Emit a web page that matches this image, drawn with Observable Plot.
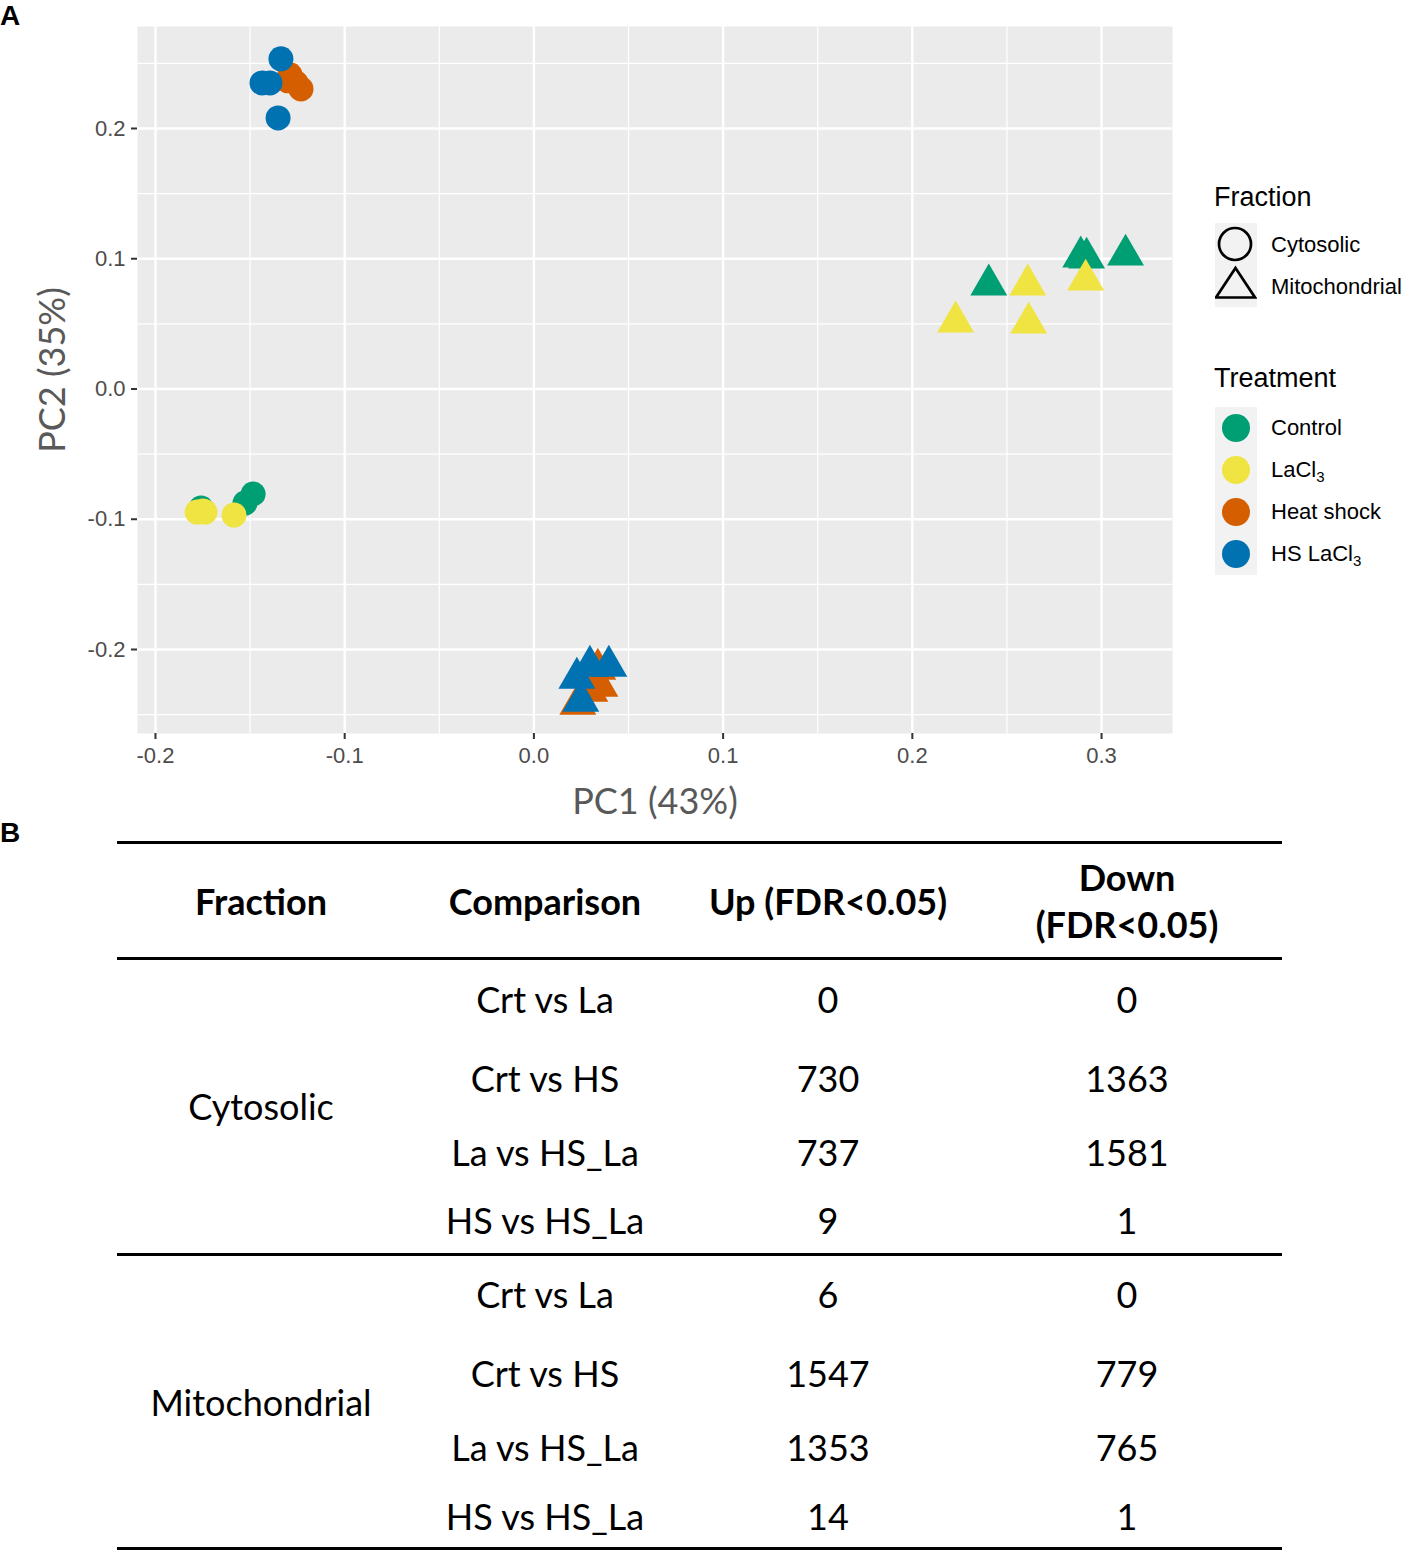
<!DOCTYPE html>
<html>
<head>
<meta charset="utf-8">
<script src="https://cdn.jsdelivr.net/npm/d3@7"></script>
<script src="https://cdn.jsdelivr.net/npm/@observablehq/plot@0.6"></script>
<style>
  body { margin: 0; background: #fff; }
  #page { position: relative; width: 1407px; height: 1550px; overflow: hidden; font-family: "Liberation Sans", Arial, sans-serif; }
  .abs { position: absolute; white-space: nowrap; }
  #plot { position: absolute; left: 0; top: 0; }
  .axtitle { font-family: Lato, sans-serif; font-size: 36px; color: #595959; text-align: center; width: 400px; height: 44px; line-height: 44px; }
  .panel { font-family: "Liberation Sans", Arial, sans-serif; font-weight: bold; font-size: 28px; color: #000; }
  .legtitle { font-size: 27px; color: #000; height: 32px; line-height: 32px; }
  .leglab { font-size: 22px; color: #000; height: 30px; line-height: 30px; }
  .leglab sub { font-size: 15px; vertical-align: -5px; line-height: 0; }
  .cell { font-family: Lato, sans-serif; font-size: 36px; color: #000; text-align: center; width: 320px; height: 44px; line-height: 44px; }
  .hdr { font-weight: bold; }
  .rule { background: #000; height: 3px; left: 117px; width: 1165px; }
</style>
</head>
<body>
<div id="page"><div id="plot"></div></div>
<script>
// ---------- data ----------
const treatments = ["Control", "LaCl3", "Heat shock", "HS LaCl3"];
const treatmentColors = ["#009E73", "#F0E442", "#D55E00", "#0072B2"];
const fractions = ["Cytosolic", "Mitochondrial"];

const sampleTreatment = [
  "Control","Control","Control","Control",
  "Control","Control","Control","Control",
  "LaCl3","LaCl3","LaCl3","LaCl3",
  "LaCl3","LaCl3","LaCl3","LaCl3",
  "Heat shock","Heat shock","Heat shock","Heat shock",
  "Heat shock","Heat shock","Heat shock","Heat shock",
  "HS LaCl3","HS LaCl3","HS LaCl3","HS LaCl3",
  "HS LaCl3","HS LaCl3","HS LaCl3","HS LaCl3"
];
const sampleFraction = [
  "Cytosolic","Cytosolic","Cytosolic","Cytosolic",
  "Mitochondrial","Mitochondrial","Mitochondrial","Mitochondrial",
  "Cytosolic","Cytosolic","Cytosolic","Cytosolic",
  "Mitochondrial","Mitochondrial","Mitochondrial","Mitochondrial",
  "Cytosolic","Cytosolic","Cytosolic","Cytosolic",
  "Mitochondrial","Mitochondrial","Mitochondrial","Mitochondrial",
  "Cytosolic","Cytosolic","Cytosolic","Cytosolic",
  "Mitochondrial","Mitochondrial","Mitochondrial","Mitochondrial"
];
const pc1 = [
  -0.1759, -0.1764, -0.1527, -0.1484,
   0.2404,  0.2890,  0.2921,  0.3127,
  -0.1749, -0.1780, -0.1738, -0.1585,
   0.2229,  0.2615,  0.2610,  0.2916,
  -0.1300, -0.1289, -0.1257, -0.1231,
   0.0296,  0.0338,  0.0349,  0.0232,
  -0.1437, -0.1395, -0.1337, -0.1352,
   0.0296,  0.0396,  0.0227,  0.0248
];
const pc2 = [
  -0.0914, -0.0930, -0.0876, -0.0806,
   0.0799,  0.1014,  0.1006,  0.1029,
  -0.0937, -0.0945, -0.0945, -0.0968,
   0.0515,  0.0507,  0.0799,  0.0837,
   0.2366,  0.2412,  0.2350,  0.2304,
  -0.2320, -0.2151, -0.2281, -0.2419,
   0.2350,  0.2350,  0.2535,  0.2081,
  -0.2127, -0.2127, -0.2220, -0.2396
];

const xTicks = [-0.2, -0.1, 0.0, 0.1, 0.2, 0.3];
const yTicks = [-0.2, -0.1, 0.0, 0.1, 0.2];
const xMinor = [-0.15, -0.05, 0.05, 0.15, 0.25];
const yMinor = [-0.25, -0.15, -0.05, 0.05, 0.15, 0.25];

const comparisons = ["Crt vs La", "Crt vs HS", "La vs HS_La", "HS vs HS_La"];
const upCytosolic = [0, 730, 737, 9];
const downCytosolic = [0, 1363, 1581, 1];
const upMitochondrial = [6, 1547, 1353, 14];
const downMitochondrial = [0, 779, 765, 1];

// ---------- plot ----------
const samples = pc1.map((v, i) => ({pc1: v, pc2: pc2[i], treatment: sampleTreatment[i], fraction: sampleFraction[i]}));

const chart = Plot.plot({
  width: 1200,
  height: 830,
  marginLeft: 137,
  marginRight: 28,
  marginTop: 26,
  marginBottom: 97,
  style: {fontFamily: "Liberation Sans, Arial, sans-serif", background: "transparent"},
  x: {domain: [-0.2095, 0.3375]},
  y: {domain: [-0.2645, 0.2783]},
  r: {type: "identity"},
  color: {domain: treatments, range: treatmentColors},
  symbol: {domain: fractions, range: ["circle", "triangle"]},
  marks: [
    Plot.frame({fill: "#EBEBEB", stroke: "none"}),
    Plot.ruleX(xMinor, {stroke: "white", strokeWidth: 1.2}),
    Plot.ruleY(yMinor, {stroke: "white", strokeWidth: 1.2}),
    Plot.ruleX(xTicks, {stroke: "white", strokeWidth: 2.4}),
    Plot.ruleY(yTicks, {stroke: "white", strokeWidth: 2.4}),
    Plot.dot(samples, {
      x: "pc1", y: "pc2", fill: "treatment", symbol: "fraction",
      r: d => d.fraction === "Cytosolic" ? 12.5 : 13.7
    }),
    Plot.axisX(xTicks, {tickSize: 6, tickPadding: 8, fontSize: 22, stroke: "#333", fill: "#4D4D4D", strokeWidth: 2,
      tickFormat: d => d.toFixed(1), label: null}),
    Plot.axisY(yTicks, {tickSize: 6, tickPadding: 6, fontSize: 22, stroke: "#333", fill: "#4D4D4D", strokeWidth: 2,
      tickFormat: d => d.toFixed(1), label: null})
  ]
});
document.getElementById("plot").appendChild(chart);

const page = document.getElementById("page");
function add(cls, html, style) {
  const d = document.createElement("div");
  d.className = "abs " + cls;
  d.innerHTML = html;
  Object.assign(d.style, style);
  page.appendChild(d);
  return d;
}

// panel letters
add("panel", "A", {left: "0px", top: "0px"});
add("panel", "B", {left: "0px", top: "817px"});

// axis titles
add("axtitle", "PC1 (43%)", {left: (655 - 200) + "px", top: (800 - 22) + "px"});
add("axtitle", "PC2 (35%)", {left: (51 - 200) + "px", top: (370 - 22) + "px", transform: "rotate(-90deg)"});

// legend
const NS = "http://www.w3.org/2000/svg";
function key(top, shape, color) {
  const s = document.createElementNS(NS, "svg");
  s.setAttribute("width", 42); s.setAttribute("height", 42);
  s.style.position = "absolute"; s.style.left = "1215px"; s.style.top = top + "px";
  let inner = `<rect width="42" height="42" fill="#F2F2F2"/>`;
  if (shape === "open-circle") inner += `<circle cx="20" cy="21" r="16" fill="none" stroke="#000" stroke-width="2.7"/>`;
  else if (shape === "open-triangle") inner += `<path d="M20.5,3 L40,32.5 L1,32.5 Z" fill="none" stroke="#000" stroke-width="2.7" stroke-linejoin="miter"/>`;
  else inner += `<circle cx="21" cy="21" r="14" fill="${color}"/>`;
  s.innerHTML = inner;
  page.appendChild(s);
}
add("legtitle", "Fraction", {left: "1214px", top: (197 - 16) + "px"});
const fracTops = [223, 265];
fractions.forEach((f, i) => {
  key(fracTops[i], i === 0 ? "open-circle" : "open-triangle");
  add("leglab", f, {left: "1271px", top: (fracTops[i] + 22 - 15) + "px"});
});
add("legtitle", "Treatment", {left: "1214px", top: (378 - 16) + "px"});
const treatTops = [407, 449, 491, 533];
treatments.forEach((t, i) => {
  key(treatTops[i], "dot", treatmentColors[i]);
  const label = t.replace("LaCl3", "LaCl<sub>3</sub>");
  add("leglab", label, {left: "1271px", top: (treatTops[i] + 21 - 15) + "px"});
});

// ---------- table ----------
const colX = [261, 545, 828, 1127];
function cell(text, cx, cy, bold) {
  add("cell" + (bold ? " hdr" : ""), text, {left: (cx - 160) + "px", top: (cy - 22) + "px"});
}
[842, 958, 1254, 1548].forEach(y => add("rule", "", {top: (y - 1.5) + "px"}));
cell("Fraction", colX[0], 901, true);
cell("Comparison", colX[1], 901, true);
cell("Up (FDR&lt;0.05)", colX[2], 901, true);
cell("Down", colX[3], 877, true);
cell("(FDR&lt;0.05)", colX[3], 924, true);

const groups = [
  {name: fractions[0], up: upCytosolic, down: downCytosolic, rows: [999, 1078, 1152, 1220], mid: 1106},
  {name: fractions[1], up: upMitochondrial, down: downMitochondrial, rows: [1294, 1373, 1447, 1516], mid: 1402}
];
groups.forEach(g => {
  cell(g.name, colX[0], g.mid, false);
  comparisons.forEach((c, i) => {
    cell(c, colX[1], g.rows[i], false);
    cell(String(g.up[i]), colX[2], g.rows[i], false);
    cell(String(g.down[i]), colX[3], g.rows[i], false);
  });
});
</script>
</body>
</html>
